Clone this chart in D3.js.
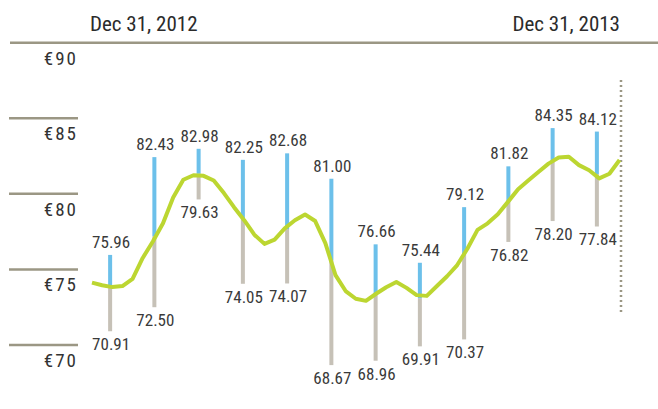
<!DOCTYPE html>
<html>
<head>
<meta charset="utf-8">
<script src="https://cdn.jsdelivr.net/npm/d3@7"></script>
<style>
  html, body { margin: 0; padding: 0; background: #fff; }
  svg text { font-family: "Liberation Sans Narrow", "Roboto Condensed", "DejaVu Sans Condensed", sans-serif; }
</style>
</head>
<body>
<script>
// monthly high / low and the close where blue turns to grey
var months = ["Jan", "Feb", "Mar", "Apr", "May", "Jun", "Jul", "Aug", "Sep", "Oct", "Nov", "Dec"];
var highs = [75.96, 82.43, 82.98, 82.25, 82.68, 81.00, 76.66, 75.44, 79.12, 81.82, 84.35, 84.12];
var lows = [70.91, 72.50, 79.63, 74.05, 74.07, 68.67, 68.96, 69.91, 70.37, 76.82, 78.20, 77.84];
var closes = [73.84, 77.20, 81.33, 78.38, 77.67, 75.60, 73.30, 73.10, 76.00, 79.46, 82.19, 81.31];

// weekly price, starting Dec 31, 2012
var weekly = [
  74.13, 73.95, 73.83, 73.90, 74.37, 75.76, 76.85, 78.05, 79.76, 80.93,
  81.23, 81.19, 80.88, 80.05, 79.12, 78.26, 77.30, 76.69, 76.97, 77.72,
  78.25, 78.63, 78.20, 76.74, 74.62, 73.57, 73.06, 72.92, 73.39, 73.82,
  74.17, 73.78, 73.30, 73.25, 73.90, 74.55, 75.29, 76.37, 77.62, 78.05,
  78.65, 79.47, 80.31, 80.88, 81.44, 82.00, 82.40, 82.45, 81.90, 81.56,
  81.02, 81.33, 82.24
];

var yTicks = [90, 85, 80, 75, 70];
var startLabel = "Dec 31, 2012";
var endLabel = "Dec 31, 2013";

var width = 658, height = 409;
var startDate = new Date(2012, 11, 31);
var endDate = new Date(2013, 11, 31);

var svg = d3.select("body")
    .append("svg")
    .attr("width", width)
    .attr("height", height);

var y = d3.scaleLinear()
    .domain([70, 90])
    .range([345, 42.7]);

var xTime = d3.scaleTime()
    .domain([startDate, endDate])
    .range([92, 621]);

var xBand = d3.scaleBand()
    .domain(months)
    .range([88, 619]);

var axisColor = "#9b9784";

// header dates
svg.append("text")
    .attr("x", xTime(startDate) - 2)
    .attr("y", 31)
    .attr("font-size", 21)
    .attr("fill", "#2b2b2b")
    .text(startLabel);

svg.append("text")
    .attr("x", xTime(endDate) - 1)
    .attr("y", 31)
    .attr("text-anchor", "end")
    .attr("font-size", 21)
    .attr("fill", "#2b2b2b")
    .text(endLabel);

// y gridlines: the top one spans the whole width
svg.selectAll(".grid")
    .data(yTicks)
    .enter()
    .append("line")
    .attr("class", "grid")
    .attr("x1", d => d === 90 ? 10 : 9)
    .attr("x2", d => d === 90 ? width : 78)
    .attr("y1", d => y(d))
    .attr("y2", d => y(d))
    .attr("stroke", axisColor)
    .attr("stroke-width", 2.5);

svg.selectAll(".ylab")
    .data(yTicks)
    .enter()
    .append("text")
    .attr("class", "ylab")
    .attr("x", 78)
    .attr("y", d => y(d) + 22)
    .attr("text-anchor", "end")
    .attr("font-size", 19)
    .attr("letter-spacing", 2)
    .attr("fill", "#333")
    .text(d => "\u20ac" + d);

// end of period marker
svg.append("line")
    .attr("x1", xTime(endDate))
    .attr("x2", xTime(endDate))
    .attr("y1", 80)
    .attr("y2", 313)
    .attr("stroke", axisColor)
    .attr("stroke-width", 2.5)
    .attr("stroke-dasharray", "2,3");

var bars = months.map((m, i) => ({ m: m, hi: highs[i], lo: lows[i], cl: closes[i] }));
var cx = d => xBand(d.m) + xBand.bandwidth() / 2;

svg.selectAll(".lo")
    .data(bars)
    .enter()
    .append("rect")
    .attr("class", "lo")
    .attr("x", d => cx(d) - 2)
    .attr("width", 4)
    .attr("y", d => y(d.cl))
    .attr("height", d => y(d.lo) - y(d.cl))
    .attr("fill", "#c6c1b7");

svg.selectAll(".hi")
    .data(bars)
    .enter()
    .append("rect")
    .attr("class", "hi")
    .attr("x", d => cx(d) - 2)
    .attr("width", 4)
    .attr("y", d => y(d.hi))
    .attr("height", d => y(d.cl) - y(d.hi))
    .attr("fill", "#6cc0ea");

svg.selectAll(".hilab")
    .data(bars)
    .enter()
    .append("text")
    .attr("class", "hilab")
    .attr("x", d => cx(d) + 1)
    .attr("y", d => y(d.hi) - 7)
    .attr("text-anchor", "middle")
    .attr("font-size", 17)
    .attr("fill", "#3a3a3a")
    .text(d => d.hi.toFixed(2));

svg.selectAll(".lolab")
    .data(bars)
    .enter()
    .append("text")
    .attr("class", "lolab")
    .attr("x", d => cx(d) + 1)
    .attr("y", d => y(d.lo) + 19)
    .attr("text-anchor", "middle")
    .attr("font-size", 17)
    .attr("fill", "#3a3a3a")
    .text(d => d.lo.toFixed(2));

// weekly price line
var line = d3.line()
    .x((d, i) => xTime(d3.timeWeek.offset(startDate, i)))
    .y(d => y(d));

svg.append("path")
    .datum(weekly)
    .attr("d", line)
    .attr("fill", "none")
    .attr("stroke", "#bcd631")
    .attr("stroke-width", 4)
    .attr("stroke-linejoin", "round");
</script>
</body>
</html>
